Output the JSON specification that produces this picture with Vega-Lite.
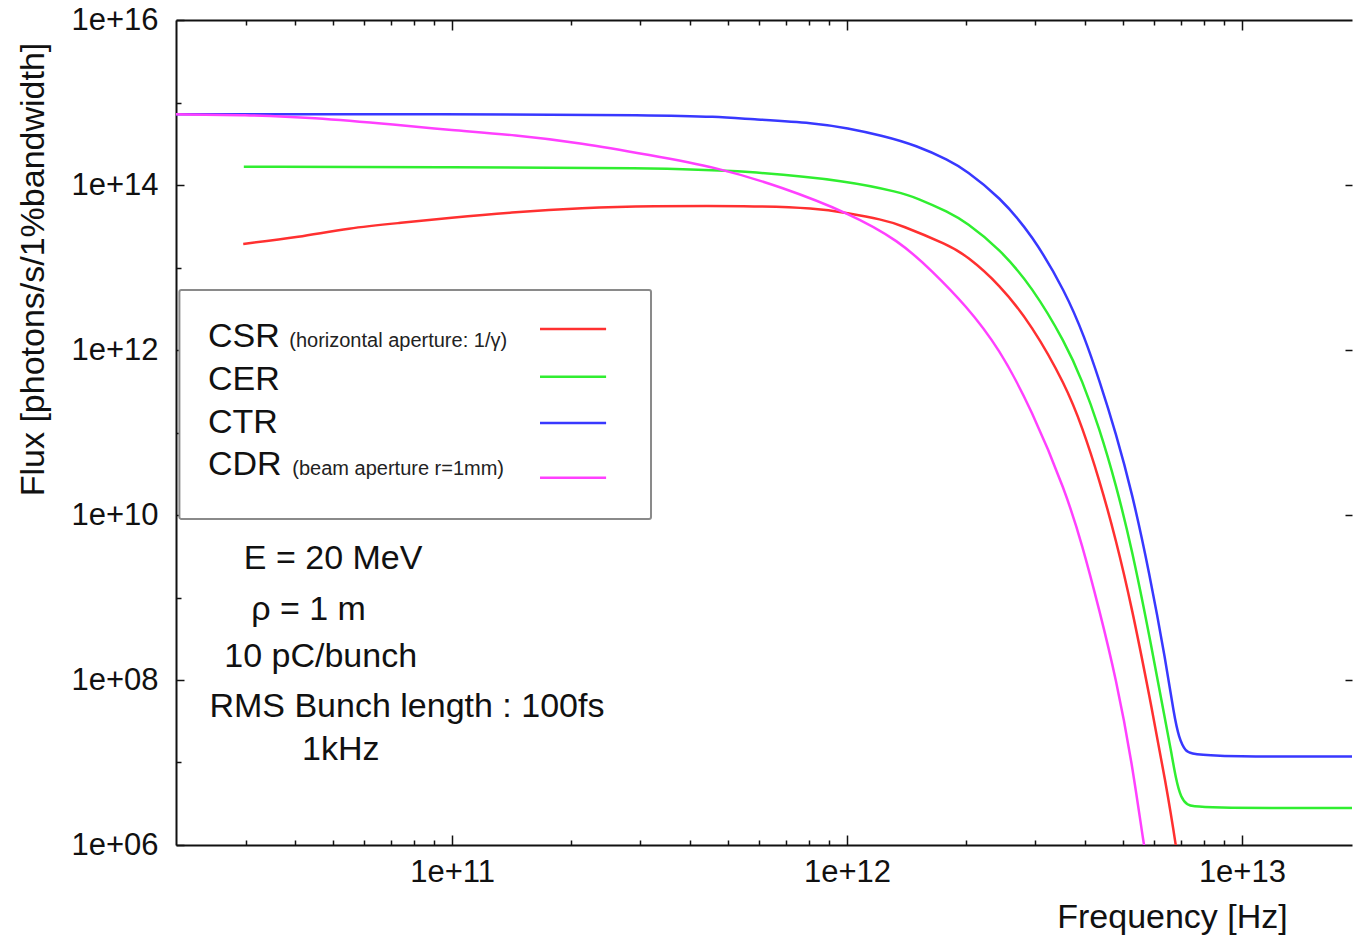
{
  "$schema": "https://vega.github.io/schema/vega-lite/v6.json",
  "autosize": {"type": "none"},
  "width": 1176,
  "height": 825,
  "padding": {"left": 176, "top": 20, "right": 2, "bottom": 92},
  "background": "white",
  "config": {
    "view": {"stroke": null},
    "font": "Liberation Sans",
    "axis": {
      "grid": false,
      "domainColor": "#111",
      "tickColor": "#111",
      "labelColor": "#111",
      "titleColor": "#111",
      "labelFont": "Liberation Sans",
      "titleFont": "Liberation Sans",
      "labelFontSize": 31,
      "titleFontSize": 34,
      "titleFontWeight": "normal",
      "domainWidth": 2,
      "tickWidth": 1.5
    }
  },
  "datasets": {
    "curves": [
      {"series": "CSR", "f": 2.96e10, "flux": 1.93e13},
      {"series": "CSR", "f": 4.1e10, "flux": 2.34e13},
      {"series": "CSR", "f": 5.48e10, "flux": 3.01e13},
      {"series": "CSR", "f": 7.35e10, "flux": 3.46e13},
      {"series": "CSR", "f": 9.82e10, "flux": 3.98e13},
      {"series": "CSR", "f": 1.45e11, "flux": 4.71e13},
      {"series": "CSR", "f": 2.13e11, "flux": 5.26e13},
      {"series": "CSR", "f": 3.16e11, "flux": 5.56e13},
      {"series": "CSR", "f": 5.65e11, "flux": 5.61e13},
      {"series": "CSR", "f": 8.36e11, "flux": 5.26e13},
      {"series": "CSR", "f": 1.0e12, "flux": 4.57e13},
      {"series": "CSR", "f": 1.23e12, "flux": 3.8e13},
      {"series": "CSR", "f": 1.36e12, "flux": 3.31e13},
      {"series": "CSR", "f": 1.81e12, "flux": 1.86e13},
      {"series": "CSR", "f": 2.0e12, "flux": 1.41e13},
      {"series": "CSR", "f": 2.43e12, "flux": 6.31e12},
      {"series": "CSR", "f": 2.94e12, "flux": 2.0e12},
      {"series": "CSR", "f": 3.58e12, "flux": 3.72e11},
      {"series": "CSR", "f": 3.94e12, "flux": 1.17e11},
      {"series": "CSR", "f": 4.35e12, "flux": 2.75e10},
      {"series": "CSR", "f": 4.8e12, "flux": 5.01e9},
      {"series": "CSR", "f": 5.27e12, "flux": 7.41e8},
      {"series": "CSR", "f": 5.82e12, "flux": 6.76e7},
      {"series": "CSR", "f": 6.43e12, "flux": 5.37e6},
      {"series": "CSR", "f": 6.81e12, "flux": 1.0e6},
      {"series": "CSR", "f": 7.13e12, "flux": 2.0e5},
      {"series": "CER", "f": 2.97e10, "flux": 1.67e14},
      {"series": "CER", "f": 1.0e11, "flux": 1.64e14},
      {"series": "CER", "f": 3.16e11, "flux": 1.61e14},
      {"series": "CER", "f": 5.65e11, "flux": 1.48e14},
      {"series": "CER", "f": 1.01e12, "flux": 1.12e14},
      {"series": "CER", "f": 1.36e12, "flux": 8.13e13},
      {"series": "CER", "f": 1.5e12, "flux": 7.0e13},
      {"series": "CER", "f": 1.81e12, "flux": 4.68e13},
      {"series": "CER", "f": 2.0e12, "flux": 3.55e13},
      {"series": "CER", "f": 2.43e12, "flux": 1.7e13},
      {"series": "CER", "f": 2.94e12, "flux": 5.89e12},
      {"series": "CER", "f": 3.58e12, "flux": 1.2e12},
      {"series": "CER", "f": 3.94e12, "flux": 4.27e11},
      {"series": "CER", "f": 4.35e12, "flux": 1.15e11},
      {"series": "CER", "f": 4.8e12, "flux": 2.34e10},
      {"series": "CER", "f": 5.27e12, "flux": 3.8e9},
      {"series": "CER", "f": 5.82e12, "flux": 3.63e8},
      {"series": "CER", "f": 6.43e12, "flux": 2.82e7},
      {"series": "CER", "f": 6.61e12, "flux": 1.42e7},
      {"series": "CER", "f": 6.81e12, "flux": 6.17e6},
      {"series": "CER", "f": 7.01e12, "flux": 3.73e6},
      {"series": "CER", "f": 7.26e12, "flux": 3.05e6},
      {"series": "CER", "f": 7.65e12, "flux": 2.81e6},
      {"series": "CER", "f": 2.0e13, "flux": 2.81e6},
      {"series": "CTR", "f": 2.0e10, "flux": 7.2e14},
      {"series": "CTR", "f": 1.0e11, "flux": 7.25e14},
      {"series": "CTR", "f": 3.4e11, "flux": 7.05e14},
      {"series": "CTR", "f": 4.66e11, "flux": 6.73e14},
      {"series": "CTR", "f": 5.65e11, "flux": 6.31e14},
      {"series": "CTR", "f": 8.36e11, "flux": 5.65e14},
      {"series": "CTR", "f": 1.0e12, "flux": 4.9e14},
      {"series": "CTR", "f": 1.23e12, "flux": 3.98e14},
      {"series": "CTR", "f": 1.5e12, "flux": 3.02e14},
      {"series": "CTR", "f": 1.81e12, "flux": 2.0e14},
      {"series": "CTR", "f": 2.0e12, "flux": 1.51e14},
      {"series": "CTR", "f": 2.43e12, "flux": 7.24e13},
      {"series": "CTR", "f": 2.94e12, "flux": 2.51e13},
      {"series": "CTR", "f": 3.58e12, "flux": 5.01e12},
      {"series": "CTR", "f": 4.0e12, "flux": 1.41e12},
      {"series": "CTR", "f": 4.35e12, "flux": 4.37e11},
      {"series": "CTR", "f": 4.8e12, "flux": 9.77e10},
      {"series": "CTR", "f": 5.27e12, "flux": 1.86e10},
      {"series": "CTR", "f": 5.82e12, "flux": 2.09e9},
      {"series": "CTR", "f": 6.43e12, "flux": 1.58e8},
      {"series": "CTR", "f": 6.73e12, "flux": 3.77e7},
      {"series": "CTR", "f": 6.93e12, "flux": 1.98e7},
      {"series": "CTR", "f": 7.18e12, "flux": 1.38e7},
      {"series": "CTR", "f": 7.55e12, "flux": 1.18e7},
      {"series": "CTR", "f": 2.0e13, "flux": 1.18e7},
      {"series": "CDR", "f": 2.0e10, "flux": 7.2e14},
      {"series": "CDR", "f": 3.0e10, "flux": 7.05e14},
      {"series": "CDR", "f": 4.4e10, "flux": 6.6e14},
      {"series": "CDR", "f": 7.35e10, "flux": 5.33e14},
      {"series": "CDR", "f": 9.82e10, "flux": 4.65e14},
      {"series": "CDR", "f": 1.45e11, "flux": 4.04e14},
      {"series": "CDR", "f": 2.13e11, "flux": 3.23e14},
      {"series": "CDR", "f": 3.16e11, "flux": 2.31e14},
      {"series": "CDR", "f": 4.66e11, "flux": 1.65e14},
      {"series": "CDR", "f": 6.84e11, "flux": 9.46e13},
      {"series": "CDR", "f": 1.01e12, "flux": 4.58e13},
      {"series": "CDR", "f": 1.36e12, "flux": 2.09e13},
      {"series": "CDR", "f": 1.64e12, "flux": 9.12e12},
      {"series": "CDR", "f": 2.0e12, "flux": 3.47e12},
      {"series": "CDR", "f": 2.43e12, "flux": 1.05e12},
      {"series": "CDR", "f": 2.94e12, "flux": 1.86e11},
      {"series": "CDR", "f": 3.58e12, "flux": 1.91e10},
      {"series": "CDR", "f": 3.94e12, "flux": 4.37e9},
      {"series": "CDR", "f": 4.35e12, "flux": 7.24e8},
      {"series": "CDR", "f": 4.8e12, "flux": 1.05e8},
      {"series": "CDR", "f": 5.27e12, "flux": 1.0e7},
      {"series": "CDR", "f": 5.64e12, "flux": 1.0e6},
      {"series": "CDR", "f": 5.9e12, "flux": 3.0e5}
    ],
    "box": [{"x1": 2.04e10, "x2": 3.19e11, "y1": 5.33e12, "y2": 8.96e9}],
    "samples": [
      {"series": "CSR", "x1": 1.67e11, "x2": 2.455e11, "y": 1.8e12},
      {"series": "CER", "x1": 1.67e11, "x2": 2.455e11, "y": 4.74e11},
      {"series": "CTR", "x1": 1.67e11, "x2": 2.455e11, "y": 1.3e11},
      {"series": "CDR", "x1": 1.67e11, "x2": 2.455e11, "y": 2.83e10}
    ],
    "labels": [
      {"label": "CSR", "x": 2.41e10, "y": 1.09e12},
      {"label": "CER", "x": 2.41e10, "y": 3.27e11},
      {"label": "CTR", "x": 2.41e10, "y": 9.86e10},
      {"label": "CDR", "x": 2.41e10, "y": 3.05e10}
    ],
    "notes": [
      {"label": "(horizontal aperture: 1/γ)", "x": 3.87e10, "y": 1.09e12},
      {"label": "(beam aperture r=1mm)", "x": 3.94e10, "y": 3.05e10}
    ],
    "params": [
      {"label": "E = 20 MeV", "x": 2.97e10, "y": 2.21e9},
      {"label": "ρ = 1 m", "x": 3.1e10, "y": 5.33e8},
      {"label": "10 pC/bunch", "x": 2.65e10, "y": 1.44e8},
      {"label": "RMS Bunch length : 100fs", "x": 2.43e10, "y": 3.56e7},
      {"label": "1kHz", "x": 4.17e10, "y": 1.07e7}
    ]
  },
  "resolve": {"axis": {"x": "independent", "y": "independent"}},
  "layer": [
    {
      "data": {"name": "box"},
      "mark": {"type": "rect", "fill": "white", "stroke": "#8a8a8a", "strokeWidth": 2, "cornerRadius": 2},
      "encoding": {
        "x": {"field": "x1", "type": "quantitative", "scale": {"type": "log", "domain": [2e10, 1.9e13], "nice": false},
          "axis": {"orient": "bottom", "values": [3e10, 4e10, 5e10, 6e10, 7e10, 8e10, 9e10, 2e11, 3e11, 4e11, 5e11, 6e11, 7e11, 8e11, 9e11, 2e12, 3e12, 4e12, 5e12, 6e12, 7e12, 8e12, 9e12], "tickSize": -5, "labels": false, "domain": false, "title": null}},
        "x2": {"field": "x2"},
        "y": {"field": "y1", "type": "quantitative", "scale": {"type": "log", "domain": [1e6, 1e16], "nice": false},
          "axis": {"orient": "right", "values": [1e8, 1e10, 1e12, 1e14], "tickSize": -7, "labels": false, "domain": false, "title": null}},
        "y2": {"field": "y2"}
      }
    },
    {
      "data": {"name": "curves"},
      "mark": {"type": "line", "strokeWidth": 2.5, "clip": true, "interpolate": "basis"},
      "encoding": {
        "x": {"field": "f", "type": "quantitative", "scale": {"type": "log", "domain": [2e10, 1.9e13], "nice": false},
          "axis": {"orient": "bottom", "values": [1e11, 1e12, 1e13], "tickSize": -10, "labelPadding": 22,
            "labelExpr": "'1e+' + (round(log(datum.value)/LN10) < 10 ? '0' : '') + round(log(datum.value)/LN10)",
            "title": "Frequency [Hz]", "titleX": 996, "titleY": 82, "titleBaseline": "alphabetic", "titleAlign": "center"}},
        "y": {"field": "flux", "type": "quantitative", "scale": {"type": "log", "domain": [1e6, 1e16], "nice": false},
          "axis": {"orient": "left", "values": [1e6, 1e8, 1e10, 1e12, 1e14, 1e16], "tickSize": -8, "labelPadding": 26,
            "labelExpr": "'1e+' + (round(log(datum.value)/LN10) < 10 ? '0' : '') + round(log(datum.value)/LN10)",
            "title": "Flux [photons/s/1%bandwidth]", "titleX": -143, "titleY": 249, "titleAngle": 270, "titleBaseline": "middle", "titleAlign": "center"}},
        "color": {"field": "series", "type": "nominal", "scale": {"domain": ["CSR", "CER", "CTR", "CDR"], "range": ["#ff3030", "#30ee30", "#3838ff", "#ff40ff"]}, "legend": null}
      }
    },
    {
      "data": {"name": "samples"},
      "mark": {"type": "rule", "strokeWidth": 2.5},
      "encoding": {
        "x": {"field": "x1", "type": "quantitative", "scale": {"type": "log", "domain": [2e10, 1.9e13], "nice": false},
          "axis": {"orient": "top", "values": [1e11, 1e12, 1e13], "tickSize": -10, "labels": false, "domain": true, "title": null}},
        "x2": {"field": "x2"},
        "y": {"field": "y", "type": "quantitative", "scale": {"type": "log", "domain": [1e6, 1e16], "nice": false},
          "axis": {"orient": "left", "values": [1e7, 1e9, 1e11, 1e13, 1e15], "tickSize": -5, "labels": false, "domain": false, "title": null}},
        "color": {"field": "series", "type": "nominal", "legend": null}
      }
    },
    {
      "data": {"name": "labels"},
      "mark": {"type": "text", "align": "left", "baseline": "alphabetic", "fontSize": 34, "font": "Liberation Sans", "color": "#111"},
      "encoding": {
        "x": {"field": "x", "type": "quantitative", "scale": {"type": "log", "domain": [2e10, 1.9e13], "nice": false},
          "axis": {"orient": "top", "values": [3e10, 4e10, 5e10, 6e10, 7e10, 8e10, 9e10, 2e11, 3e11, 4e11, 5e11, 6e11, 7e11, 8e11, 9e11, 2e12, 3e12, 4e12, 5e12, 6e12, 7e12, 8e12, 9e12], "tickSize": -5, "labels": false, "domain": false, "title": null}},
        "y": {"field": "y", "type": "quantitative", "scale": {"type": "log", "domain": [1e6, 1e16], "nice": false}, "axis": null},
        "text": {"field": "label"}
      }
    },
    {
      "data": {"name": "notes"},
      "mark": {"type": "text", "align": "left", "baseline": "alphabetic", "fontSize": 20, "font": "Liberation Sans", "color": "#222"},
      "encoding": {
        "x": {"field": "x", "type": "quantitative", "scale": {"type": "log", "domain": [2e10, 1.9e13], "nice": false}, "axis": null},
        "y": {"field": "y", "type": "quantitative", "scale": {"type": "log", "domain": [1e6, 1e16], "nice": false}, "axis": null},
        "text": {"field": "label"}
      }
    },
    {
      "data": {"name": "params"},
      "mark": {"type": "text", "align": "left", "baseline": "alphabetic", "fontSize": 34, "font": "Liberation Sans", "color": "#111"},
      "encoding": {
        "x": {"field": "x", "type": "quantitative", "scale": {"type": "log", "domain": [2e10, 1.9e13], "nice": false}, "axis": null},
        "y": {"field": "y", "type": "quantitative", "scale": {"type": "log", "domain": [1e6, 1e16], "nice": false}, "axis": null},
        "text": {"field": "label"}
      }
    }
  ]
}
